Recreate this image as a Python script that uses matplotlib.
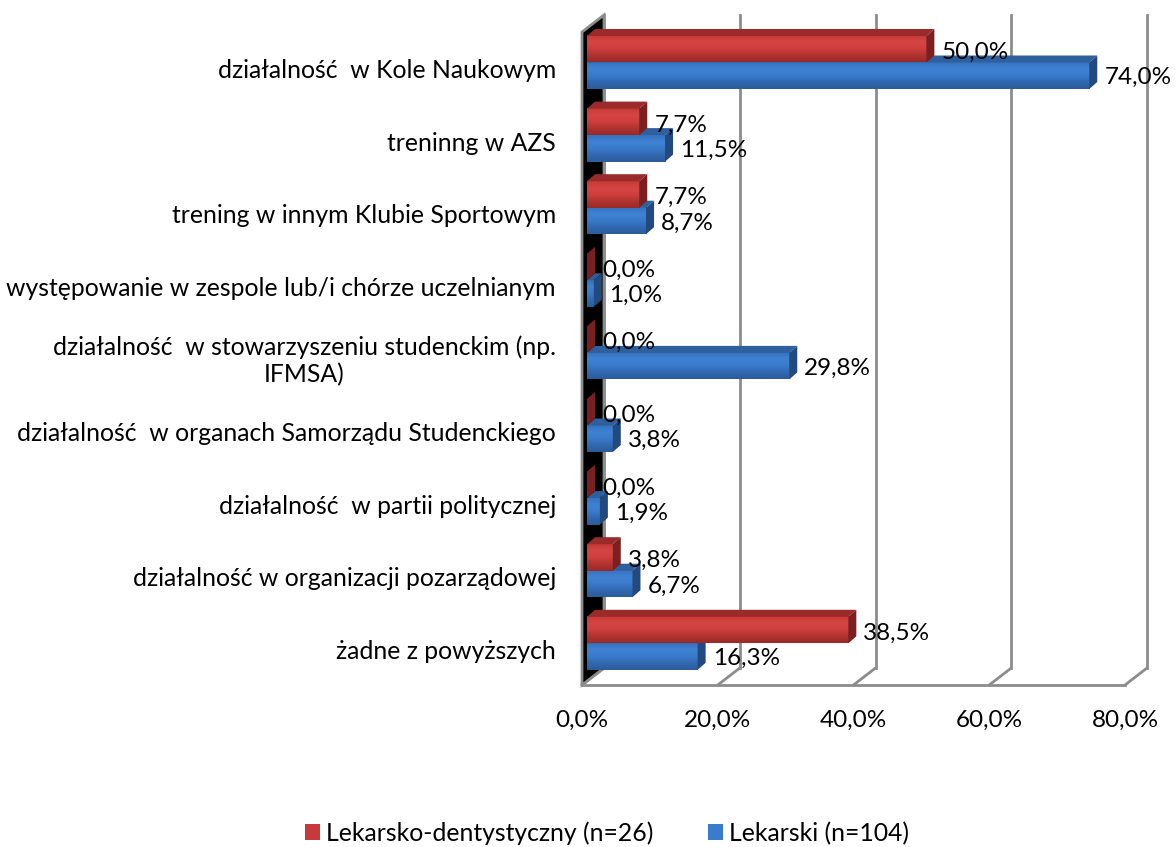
import numpy as np
import matplotlib.pyplot as plt
from matplotlib.patches import Polygon, Patch
from matplotlib.colors import LinearSegmentedColormap

# data
categories = [
    'działalność  w Kole Naukowym',
    'treninng w AZS',
    'trening w innym Klubie Sportowym',
    'występowanie w zespole lub/i chórze uczelnianym',
    'działalność  w stowarzyszeniu studenckim (np.\nIFMSA)',
    'działalność  w organach Samorządu Studenckiego',
    'działalność  w partii politycznej',
    'działalność w organizacji pozarządowej',
    'żadne z powyższych',
]
dentistry = [50.0, 7.7, 7.7, 0.0, 0.0, 0.0, 0.0, 3.8, 38.5]
medicine = [74.0, 11.5, 8.7, 1.0, 29.8, 3.8, 1.9, 6.7, 16.3]
series_names = ['Lekarsko-dentystyczny (n=26)', 'Lekarski (n=104)']
x_ticks = [0, 20, 40, 60, 80]

plt.rcParams['font.family'] = ['Lato', 'DejaVu Sans']
FS = 17.8      # category labels, legend
FSN = 17.5     # numbers

W, H = 1175, 847
fig = plt.figure(figsize=(W / 100, H / 100), dpi=100)
ax = fig.add_axes([0, 0, 1, 1])

# pixel scale of the front plane
x0px, x80px = 582, 1125
sx = (x80px - x0px) / 80.0
sy = 72.6
y0px = 70.5
xlim = (-x0px / sx, (W - x0px) / sx)
ylim = ((H - y0px) / sy, -y0px / sy)


def dx(p):
    return p / sx


def dy(p):
    return p / sy


DX, DY = dx(22), dy(17)          # depth of the 3D box
ytop = dy(32 - y0px)
yfloor = dy(685 - y0px)
grid_c = '#8c8c8c'

# left wall
wall = Polygon([(0, ytop), (0, yfloor), (DX, yfloor - DY), (DX, ytop - DY)],
               closed=True, facecolor='black', edgecolor=grid_c, lw=2, zorder=1)
ax.add_patch(wall)

# back wall gridlines and floor
for t in x_ticks:
    ax.plot([t + DX, t + DX], [yfloor - DY, ytop - DY], color=grid_c, lw=2, zorder=0.5)
    ax.plot([t, t + DX], [yfloor, yfloor - DY], color=grid_c, lw=2, zorder=0.5)
ax.plot([0, x_ticks[-1]], [yfloor, yfloor], color=grid_c, lw=2, zorder=0.5)

red_cmap = LinearSegmentedColormap.from_list('r', ['#c63a36', '#d44543', '#cf3f3d', '#b13330', '#982a28'])
blue_cmap = LinearSegmentedColormap.from_list('b', ['#3673c0', '#3f81d2', '#3a7aca', '#3168b0', '#2b5b9a'])
grad = np.linspace(0, 1, 64).reshape(-1, 1)

xs = dx(5)
th = dy(26.5)
bdx, bdy = dx(8), dy(7)


def bar3d(v, yt, yb, cmap, top_c, side_c):
    if v > 0:
        ax.imshow(grad, cmap=cmap, extent=[xs, xs + v, yb, yt], aspect='auto',
                  interpolation='bilinear', zorder=2)
    top = Polygon([(xs, yt), (xs + v, yt), (xs + v + bdx, yt - bdy), (xs + bdx, yt - bdy)],
                  closed=True, facecolor=top_c, edgecolor='none', zorder=2)
    side = Polygon([(xs + v, yt), (xs + v, yb), (xs + v + bdx, yb - bdy), (xs + v + bdx, yt - bdy)],
                   closed=True, facecolor=side_c, edgecolor='none', zorder=2)
    ax.add_patch(top)
    ax.add_patch(side)


def pct(v):
    return f'{v:.1f}%'.replace('.', ',')


for i, (vr, vb) in enumerate(zip(dentistry, medicine)):
    yc = i - dy(8)
    bar3d(vb, yc, yc + th, blue_cmap, '#2f609e', '#234a7e')
    bar3d(vr, yc - th, yc, red_cmap, '#9a2b2a', '#7a2020')
    ax.text(xs + vr + dx(15), yc - th / 2 + dy(3), pct(vr), fontsize=FSN,
            ha='left', va='center', zorder=3)
    ax.text(xs + vb + dx(15), yc + th / 2 + dy(2), pct(vb), fontsize=FSN,
            ha='left', va='center', zorder=3)
    ax.text(dx(556 - x0px), i, categories[i], fontsize=FS, ha='right',
            va='center', multialignment='center', linespacing=1.25)

for t in x_ticks:
    ax.text(t, dy(720 - y0px), pct(t), fontsize=FSN, ha='center', va='center')

handles = [Patch(facecolor='#c8393a'), Patch(facecolor='#3b7bcc')]
ax.legend(handles, series_names, loc='center', ncol=2, frameon=False,
          bbox_to_anchor=(607 / W, 1 - 833 / H), bbox_transform=fig.transFigure,
          fontsize=FS, handlelength=0.6, handleheight=0.6, handletextpad=0.25,
          columnspacing=2.2)

ax.set_xlim(*xlim)
ax.set_ylim(*ylim)
ax.axis('off')
fig.savefig('out.png', dpi=100)
